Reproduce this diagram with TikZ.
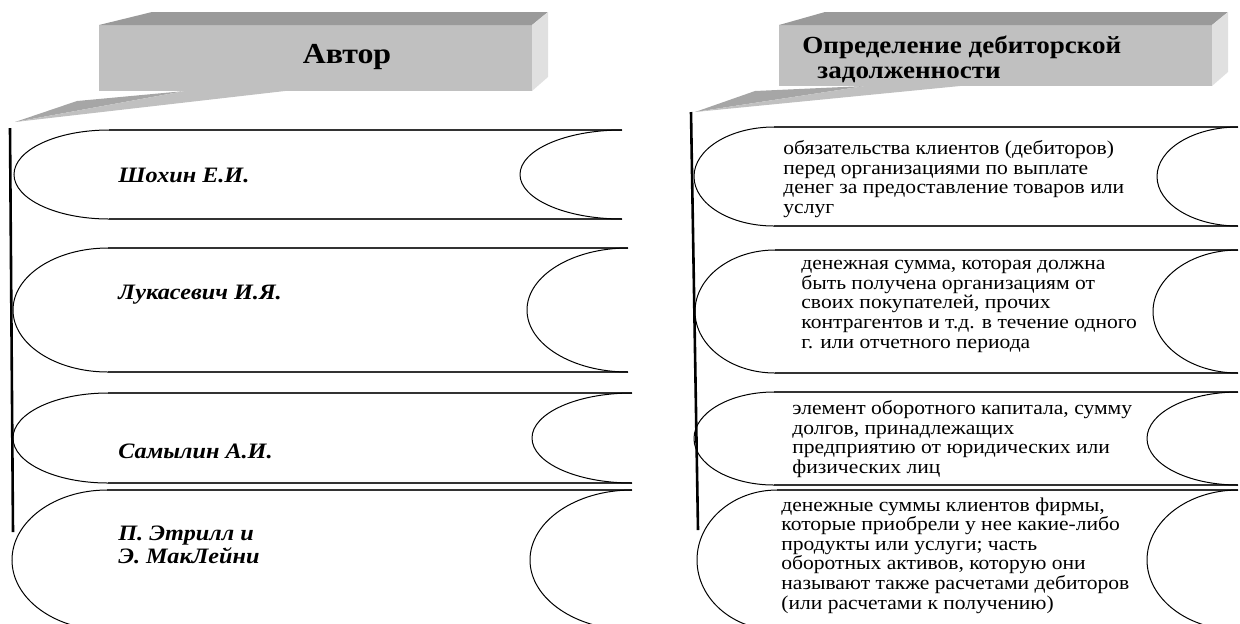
\documentclass[tikz,border=0pt]{standalone}
\usepackage{fontspec}
\setmainfont{LiberationSerif}[Extension=.ttf, UprightFont=*-Regular, BoldFont=*-Bold, ItalicFont=*-Italic, BoldItalicFont=*-BoldItalic, FakeStretch=1.1]
\definecolor{boxfront}{HTML}{C0C0C0}
\definecolor{boxtop}{HTML}{9A9A9A}
\definecolor{boxside}{HTML}{E0E0E0}
\definecolor{taildark}{HTML}{A6A6A6}
\begin{document}
\begin{tikzpicture}[x=0.5pt, y=-0.5pt,
    author/.style={anchor=west, inner sep=0pt, align=left, font=\fontsize{11}{11.5}\selectfont\bfseries\itshape},
    defn/.style={anchor=north west, inner sep=0pt, align=left, font=\fontsize{9.8}{9.8}\selectfont},
    head/.style={inner sep=0pt, align=left, font=\bfseries},
    bandline/.style={draw=black!80, line width=0.8pt},
    bandarc/.style={draw=black, line width=0.5pt}]
        \useasboundingbox (0,0) rectangle (1240,623);
        \clip (0,0) rectangle (1240,623);

        % Header boxes
        \fill[boxfront] (99,25) rectangle (532,91);
        \fill[boxtop] (99,25) -- (152,12) -- (548,12) -- (532,25) -- cycle;
        \fill[boxside] (532,25) -- (548,12) -- (548,77) -- (532,91) -- cycle;
        \fill[taildark] (15,122) -- (77,101) -- (185,91) -- cycle;
        \fill[boxfront] (15,122) -- (185,91) -- (285,91) -- cycle;

        \fill[boxfront] (779,25) rectangle (1212,86);
        \fill[boxtop] (779,25) -- (825,12) -- (1228,12) -- (1212,25) -- cycle;
        \fill[boxside] (1212,25) -- (1228,12) -- (1228,72) -- (1212,86) -- cycle;
        \fill[taildark] (695,112) -- (755,91) -- (865,86) -- cycle;
        \fill[boxfront] (695,112) -- (865,86) -- (960,86) -- cycle;

        \node[head, anchor=base, font=\fontsize{14.5}{15}\selectfont\bfseries] (hauthor) at (347,63) {Автор};
        \node[head, anchor=west, font=\fontsize{12.3}{12.5}\selectfont\bfseries] (hdef) at (802,59.5) {Определение дебиторской\\\hspace*{7.5pt}задолженности};

        % Bands: top/bottom/left/right/left radius/right radius
        \foreach \t/\b/\l/\r/\p/\q in {130/219/14/622/95/102, 248/372/13/628/95/101,
                393/483/13/632/95/100, 490/630/12/632/95/102,
                127/226/694/1238/80/81, 250/373/695/1238/80/85,
                392/485/694/1238/80/91, 490/630/697/1238/80/91} {
            \pgfmathsetmacro\m{(\t+\b)/2}
            \pgfmathsetmacro\h{0.552*(\b-\t)/2}
            \draw[bandline] (\l+\p,\t) -- (\r,\t);
            \draw[bandline] (\l+\p,\b) -- (\r,\b);
            \draw[bandarc] (\l+\p,\t) .. controls (\l+0.448*\p,\t) and (\l,\m-\h) .. (\l,\m)
                .. controls (\l,\m+\h) and (\l+0.448*\p,\b) .. (\l+\p,\b);
            \draw[bandarc] (\r,\t) .. controls (\r-0.552*\q,\t) and (\r-\q,\m-\h) .. (\r-\q,\m)
                .. controls (\r-\q,\m+\h) and (\r-0.552*\q,\b) .. (\r,\b);
        }

        % Vertical lines
        \draw[line width=1.3pt] (10,128) -- (13,532);
        \draw[line width=1.3pt] (691,112) -- (698,530);

        % Authors
        \node[author] (a1) at (118,175) {Шохин Е.И.};
        \node[author] (a2) at (118,295) {Лукасевич И.Я.};
        \node[author] (a3) at (118,451) {Самылин А.И.};
        \node[author] (a4) at (118,545) {П. Этрилл и\\Э. МакЛейни};

        % Definitions
        \node[defn] (d1) at (783,140) {обязательства клиентов (дебиторов)\\перед организациями по выплате\\денег за предоставление товаров или\\услуг};
        \node[defn] (d2) at (801,260) {денежная сумма, которая должна\\быть получена организациям от\\своих покупателей, прочих\\контрагентов и т.д. в течение одного\\г. или отчетного периода};
        \node[defn] (d3) at (792,400) {элемент оборотного капитала, сумму\\долгов, принадлежащих\\предприятию от юридических или\\физических лиц};
        \node[defn] (d4) at (781,497) {денежные суммы клиентов фирмы,\\которые приобрели у нее какие-либо\\продукты или услуги; часть\\оборотных активов, которую они\\называют также расчетами дебиторов\\(или расчетами к получению)};
    \end{tikzpicture}
\end{document}
